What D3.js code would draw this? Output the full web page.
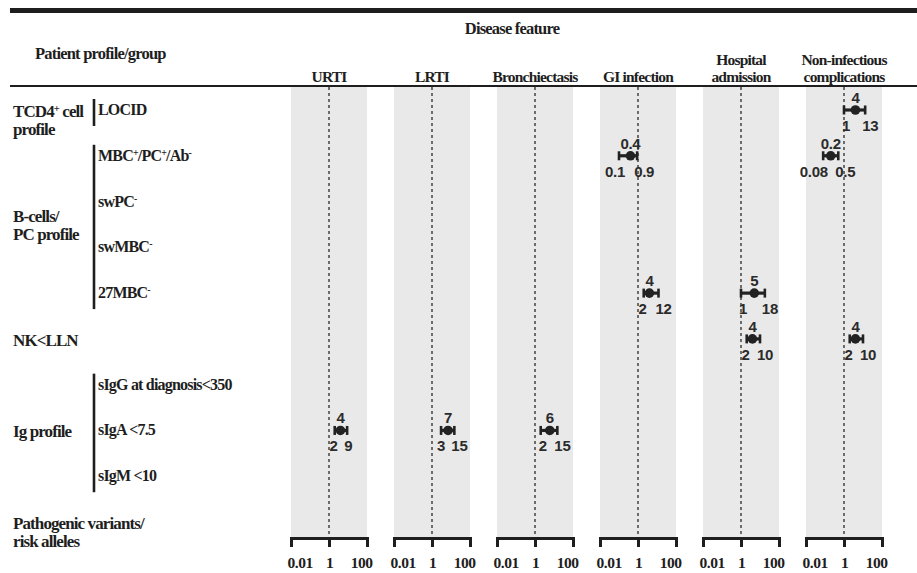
<!DOCTYPE html>
<html>
<head>
<meta charset="utf-8">
<script src="https://cdn.jsdelivr.net/npm/d3@7"></script>
<style>
  body { margin: 0; background: #fff; }
  svg { display: block; }
</style>
</head>
<body>
<svg id="chart" width="917" height="573"></svg>
<script>
// Disease features (one forest panel each); "|" splits a title over two lines
const panels = ["URTI", "LRTI", "Bronchiectasis", "GI infection", "Hospital|admission", "Non-infectious|complications"];

// Patient profile rows, top to bottom; "^" marks a superscript character
const rows = ["LOCID", "MBC^+/PC^+/Ab^-", "swPC^-", "swMBC^-", "27MBC^-", "NK<LLN",
              "sIgG at diagnosis<350", "sIgA <7.5", "sIgM <10", "Pathogenic variants/risk alleles"];

// Row groups: label lines, member rows, whether members get their own sub-labels
const groupLabels = [["TCD4^+ cell", "profile"], ["B-cells/", "PC profile"], ["NK<LLN"], ["Ig profile"], ["Pathogenic variants/", "risk alleles"]];
const groupRows = [["LOCID"], ["MBC^+/PC^+/Ab^-", "swPC^-", "swMBC^-", "27MBC^-"], ["NK<LLN"],
                   ["sIgG at diagnosis<350", "sIgA <7.5", "sIgM <10"], ["Pathogenic variants/risk alleles"]];
const groupHasSubRows = [true, true, false, true, false];

// Odds ratios with 95% confidence intervals
const effectRow = ["LOCID", "MBC^+/PC^+/Ab^-", "MBC^+/PC^+/Ab^-", "27MBC^-", "27MBC^-", "NK<LLN", "NK<LLN", "sIgA <7.5", "sIgA <7.5", "sIgA <7.5"];
const effectPanel = ["Non-infectious|complications", "GI infection", "Non-infectious|complications", "GI infection", "Hospital|admission",
                     "Hospital|admission", "Non-infectious|complications", "URTI", "LRTI", "Bronchiectasis"];
const oddsRatio = [4, 0.4, 0.2, 4, 5, 4, 4, 4, 7, 6];
const ciLower   = [1, 0.1, 0.08, 2, 1, 2, 2, 2, 3, 2];
const ciUpper   = [13, 0.9, 0.5, 12, 18, 10, 10, 9, 15, 15];

// Log axis
const axisDomain = [0.01, 100];
const axisTicks = [0.01, 1, 100];

const effects = effectRow.map((r, i) => ({
  row: r, panel: effectPanel[i], or: oddsRatio[i], lo: ciLower[i], hi: ciUpper[i]
}));

const svg = d3.select("#chart");
const serif = "'Liberation Serif', 'Times New Roman', serif";
const sans = "'Liberation Sans', Arial, sans-serif";
const ink = "#1e1e1e";

const panelBand = d3.scaleBand().domain(panels).range([291, 882]).paddingInner(27 / 103).paddingOuter(0);
const y = d3.scalePoint().domain(rows).range([110, 522]);
const bandTop = 87, bandBottom = 537, axisY = 538;

function xFor(panel) {
  const x0 = panelBand(panel);
  return d3.scaleLog().domain(axisDomain).range([x0, x0 + panelBand.bandwidth()]);
}

function richText(sel, str) {
  str.split(/(\^.)/).forEach(p => {
    if (!p) return;
    if (p[0] === "^") {
      sel.append("tspan").attr("baseline-shift", "super").attr("font-size", "62%").text(p[1]);
    } else {
      sel.append("tspan").text(p);
    }
  });
}

// Rules across the top
svg.append("rect").attr("x", 10).attr("y", 8).attr("width", 907).attr("height", 5).attr("fill", ink);
svg.append("rect").attr("x", 10).attr("y", 85).attr("width", 907).attr("height", 2).attr("fill", ink);

// Headers
svg.append("text").attr("x", 35).attr("y", 59).attr("font-family", serif).attr("font-weight", "bold")
  .attr("font-size", 16.5).attr("letter-spacing", -0.8).attr("fill", ink).text("Patient profile/group");
svg.append("text").attr("x", 512).attr("y", 34).attr("text-anchor", "middle").attr("font-family", serif)
  .attr("font-weight", "bold").attr("font-size", 16.5).attr("letter-spacing", -0.8).attr("fill", ink).text("Disease feature");

// Panels
panels.forEach(p => {
  const x = xFor(p);
  const g = svg.append("g");
  const cx = panelBand(p) + panelBand.bandwidth() / 2;
  g.append("rect").attr("x", panelBand(p)).attr("y", bandTop)
    .attr("width", panelBand.bandwidth()).attr("height", bandBottom - bandTop).attr("fill", "#e9e9e9");
  g.append("line").attr("x1", x(1)).attr("x2", x(1)).attr("y1", bandTop).attr("y2", bandBottom)
    .attr("stroke", "#2a2a2a").attr("stroke-width", 1.3).attr("stroke-dasharray", "3,3");

  const lines = p.split("|");
  lines.forEach((t, i) => {
    g.append("text").attr("x", cx).attr("y", 82 - (lines.length - 1 - i) * 17)
      .attr("text-anchor", "middle").attr("font-family", serif).attr("font-weight", "bold")
      .attr("font-size", 15.5).attr("letter-spacing", -0.8).attr("fill", ink).text(t);
  });

  const axis = d3.axisBottom(x).tickValues(axisTicks).tickSize(9).tickSizeOuter(9).tickFormat(d => String(d));
  const ag = g.append("g").attr("transform", `translate(0,${axisY})`).call(axis);
  ag.select(".domain").attr("stroke", ink).attr("stroke-width", 3);
  ag.selectAll(".tick line").attr("stroke", ink).attr("stroke-width", 3);
  ag.selectAll(".tick text").attr("y", 19).attr("font-family", serif).attr("font-weight", "bold")
    .attr("font-size", 15.5).attr("letter-spacing", -0.5).attr("fill", ink)
    .attr("text-anchor", (d, i) => i === 0 ? "start" : i === axisTicks.length - 1 ? "end" : "middle")
    .attr("x", (d, i) => i === 0 ? -4 : i === axisTicks.length - 1 ? 5 : 0);
});

// Row group labels, brackets and sub-row labels
groupLabels.forEach((lines, gi) => {
  const members = groupRows[gi];
  const y0 = y(members[0]), y1 = y(members[members.length - 1]);
  const mid = (y0 + y1) / 2;
  const firstLineY = members.length > 1 ? mid - (lines.length - 1) * 9 + 2 : y0 + 2;
  lines.forEach((t, li) => {
    const txt = svg.append("text").attr("x", 13).attr("y", firstLineY + li * 18 + 5)
      .attr("font-family", serif).attr("font-weight", "bold").attr("font-size", 17)
      .attr("letter-spacing", -0.9).attr("fill", ink);
    richText(txt, t);
  });
  if (groupHasSubRows[gi]) {
    svg.append("line").attr("x1", 94).attr("x2", 94).attr("y1", y0 - 11).attr("y2", y1 + 16)
      .attr("stroke", ink).attr("stroke-width", 2.6);
    members.forEach(r => {
      const txt = svg.append("text").attr("x", 98).attr("y", y(r) + 5)
        .attr("font-family", serif).attr("font-weight", "bold").attr("font-size", 16)
        .attr("letter-spacing", -0.8).attr("fill", ink);
      richText(txt, r);
    });
  }
});

// Forest marks: CI bar with caps, point estimate, and value labels
const markInk = "#222";
const labelInk = "#2b2b2b";
const eg = svg.append("g");
effects.forEach(e => {
  const x = xFor(e.panel);
  const yy = y(e.row);
  const xl = x(e.lo), xh = x(e.hi), xe = x(e.or);
  eg.append("line").attr("x1", xl).attr("x2", xh).attr("y1", yy).attr("y2", yy)
    .attr("stroke", markInk).attr("stroke-width", 3.2);
  [xl, xh].forEach(cx => eg.append("line").attr("x1", cx).attr("x2", cx).attr("y1", yy - 4.5).attr("y2", yy + 4.5)
    .attr("stroke", markInk).attr("stroke-width", 2.6));
  eg.append("circle").attr("cx", xe).attr("cy", yy).attr("r", 4.8).attr("fill", markInk);

  const lab = (t, lx, ly, anchor) => eg.append("text").attr("x", lx).attr("y", ly)
    .attr("text-anchor", anchor).attr("font-family", sans).attr("font-weight", "bold")
    .attr("font-size", 15).attr("letter-spacing", -0.3).attr("fill", labelInk).text(t);
  lab(String(e.or), xe, yy - 7, "middle");
  lab(String(e.lo), Math.min(xe - 3, xl + 6), yy + 21, "end");
  lab(String(e.hi), Math.max(xe + 3, xh - 3), yy + 21, "start");
});
</script>
</body>
</html>
